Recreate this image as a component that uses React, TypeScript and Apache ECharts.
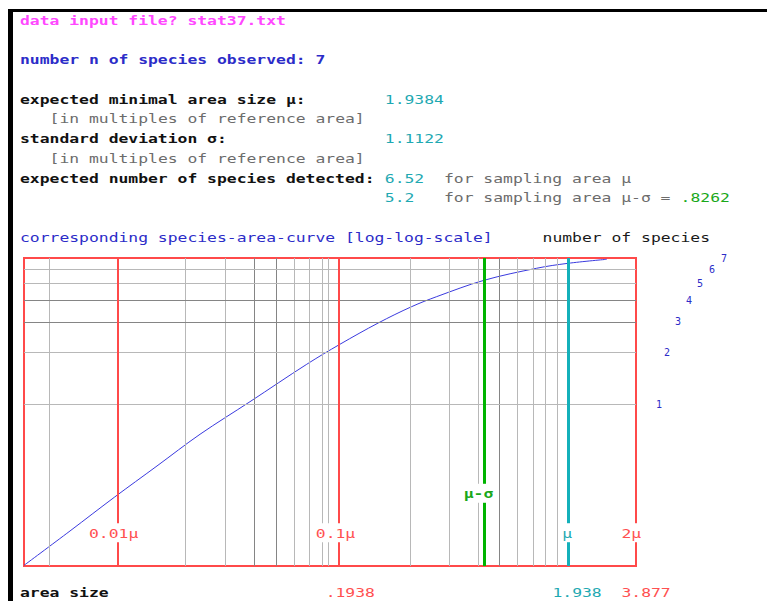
import React, { useEffect, useRef } from "react";
import * as echarts from "echarts";

// ---- values ----
const inputFile = "stat37.txt";
const speciesObserved = 7;
const mu = 1.9384; // expected minimal area size
const sigma = 1.1122; // standard deviation
const muMinusSigma = 0.8262;
const speciesAtMu = 6.52;
const speciesAtMuMinusSigma = 5.2;

// axis extents (x in multiples of mu, y in number of species)
const xRangeMultiples = [0.004, 2];
const yRange = [0.117, 7];

// vertical grid lines (multiples of mu) and horizontal ones (species)
const xGridMultiples = [
  0.005, 0.006, 0.007, 0.008, 0.009,
  0.02, 0.03, 0.04, 0.05, 0.06, 0.07, 0.08, 0.09,
  0.2, 0.3, 0.4, 0.5, 0.6, 0.7, 0.8, 0.9,
];
const xGridDark = [0.005, 0.04, 0.05, 0.5];
const yGridSpecies = [1, 2, 3, 4, 5, 6];
const yGridDark = [3, 4];
const redMarkerMultiples = [0.01, 0.1];
const speciesTickLabels = [1, 2, 3, 4, 5, 6, 7];

// species-area curve: area size -> expected number of species
const curveArea = [
  0.007754, 0.01237, 0.0194, 0.02993, 0.04632, 0.07695, 0.1369, 0.1919,
  0.2832, 0.3973, 0.5124, 0.8262, 1.4143, 1.9384, 2.88,
];
const curveSpecies = [
  0.118, 0.1863, 0.2915, 0.4419, 0.6732, 1.038, 1.706, 2.226, 2.954,
  3.668, 4.19, 5.2, 6.11, 6.52, 6.88,
];

// ---- layout (text-mode grid of the original screen) ----
const X0 = 20;
const CW = 9.86;
const Y0 = 20;
const RH = 19.72;
const FONT = '"DejaVu Sans Mono", "Liberation Mono", monospace';
const FONT_SIZE = 13;
const SCALE_X = CW / (0.6021 * FONT_SIZE);
const speciesLabelX = [659, 667, 678, 689, 700, 712, 724];

const C = {
  magenta: "#ff48ff",
  blue: "#2c2cc8",
  black: "#111111",
  gray: "#6c6c6c",
  cyan: "#1fa9b2",
  green: "#1aa81a",
  red: "#ff5050",
  redLine: "#ff4a4a",
  gridLight: "#b8b8b8",
  gridDark: "#858585",
  curve: "#3a3ade",
};

function fmtNoLead(v: number, d: number) {
  const s = v.toFixed(d);
  return s.startsWith("0.") ? s.slice(1) : s;
}

function txt(
  col: number,
  row: number,
  text: string,
  fill: string,
  bold = false,
  extra: Record<string, unknown> = {}
) {
  return {
    type: "text",
    x: X0 + col * CW,
    y: Y0 + row * RH,
    scaleX: SCALE_X,
    z: 100,
    silent: true,
    style: {
      text,
      fill,
      fontFamily: FONT,
      fontSize: FONT_SIZE,
      fontWeight: bold ? "bold" : "normal",
      align: "left",
      textAlign: "left",
      verticalAlign: "middle",
      textVerticalAlign: "middle",
      ...extra,
    },
  };
}

export default function App() {
  const ref = useRef<HTMLDivElement>(null);

  useEffect(() => {
    if (!ref.current) return;
    const chart = echarts.init(ref.current, null, { renderer: "svg" });

    const xMin = xRangeMultiples[0] * mu;
    const xMax = xRangeMultiples[1] * mu;

    const gridLines = [
      ...xGridMultiples.map((m) => ({
        xAxis: m * mu,
        lineStyle: {
          color: xGridDark.includes(m) ? C.gridDark : C.gridLight,
          width: 1,
          type: "solid",
        },
      })),
      ...yGridSpecies.map((s) => ({
        yAxis: s,
        lineStyle: {
          color: yGridDark.includes(s) ? C.gridDark : C.gridLight,
          width: 1,
          type: "solid",
        },
      })),
    ];

    const markerLines = [
      ...redMarkerMultiples.map((m) => ({
        xAxis: m * mu,
        lineStyle: { color: C.redLine, width: 2, type: "solid" },
      })),
      {
        xAxis: muMinusSigma,
        lineStyle: { color: "#00b400", width: 3, type: "solid" },
      },
      {
        xAxis: mu,
        lineStyle: { color: "#14b0ba", width: 3, type: "solid" },
      },
    ];

    const ml = (data: unknown[]) => ({
      silent: true,
      symbol: ["none", "none"],
      label: { show: false },
      emphasis: { disabled: true },
      animation: false,
      data,
    });

    chart.setOption({
      animation: false,
      backgroundColor: "#ffffff",
      grid: {
        left: 24,
        top: 258,
        width: 612,
        height: 308,
        show: true,
        borderColor: C.redLine,
        borderWidth: 2,
        backgroundColor: "#ffffff",
      },
      xAxis: {
        type: "log",
        logBase: 10,
        min: xMin,
        max: xMax,
        axisLine: { show: false },
        axisTick: { show: false },
        axisLabel: { show: false },
        splitLine: { show: false },
      },
      yAxis: {
        type: "log",
        logBase: 10,
        min: yRange[0],
        max: yRange[1],
        axisLine: { show: false },
        axisTick: { show: false },
        axisLabel: { show: false },
        splitLine: { show: false },
      },
      series: [
        {
          type: "line",
          data: [],
          z: 1,
          silent: true,
          markLine: ml(gridLines),
        },
        {
          type: "line",
          data: [],
          z: 2,
          silent: true,
          markLine: ml(markerLines),
        },
        {
          type: "line",
          z: 3,
          silent: true,
          smooth: 0.35,
          showSymbol: false,
          symbol: "none",
          lineStyle: { color: C.curve, width: 1 },
          data: curveArea.map((a, i) => [a, curveSpecies[i]]),
        },
      ],
    });

    const speciesLabels = speciesTickLabels.map((s, i) => {
      const y = chart.convertToPixel({ yAxisIndex: 0 }, s) as number;
      return {
        type: "text",
        x: speciesLabelX[i],
        y,
        z: 100,
        silent: true,
        style: {
          text: String(s),
          fill: C.blue,
          fontFamily: FONT,
          fontSize: 10,
          align: "center",
          textAlign: "center",
          verticalAlign: "middle",
          textVerticalAlign: "middle",
        },
      };
    });

    const bg = { backgroundColor: "#ffffff", padding: [3, 0] };

    chart.setOption({
      graphic: [
        { type: "rect", shape: { x: 8, y: 9, width: 759, height: 3 }, style: { fill: "#000" }, z: 100, silent: true },
        { type: "rect", shape: { x: 8, y: 9, width: 5, height: 592 }, style: { fill: "#000" }, z: 100, silent: true },
        txt(0, 0, `data input file? ${inputFile}`, C.magenta, true),
        txt(0, 2, `number n of species observed: ${speciesObserved}`, C.blue, true),
        txt(0, 4, "expected minimal area size μ:", C.black, true),
        txt(37, 4, mu.toFixed(4), C.cyan),
        txt(3, 5, "[in multiples of reference area]", C.gray),
        txt(0, 6, "standard deviation σ:", C.black, true),
        txt(37, 6, sigma.toFixed(4), C.cyan),
        txt(3, 7, "[in multiples of reference area]", C.gray),
        txt(0, 8, "expected number of species detected:", C.black, true),
        txt(37, 8, speciesAtMu.toFixed(2), C.cyan),
        txt(43, 8, "for sampling area μ", C.gray),
        txt(37, 9, speciesAtMuMinusSigma.toFixed(1), C.cyan),
        txt(43, 9, "for sampling area μ-σ = ", C.gray),
        txt(67, 9, fmtNoLead(muMinusSigma, 4), C.green),
        txt(0, 11, "corresponding species-area-curve [log-log-scale]", C.blue),
        txt(53, 11, "number of species", "#1a1a1a"),
        txt(45, 24, "μ-σ", C.green, true, bg),
        txt(7, 26, "0.01μ", C.red, false, bg),
        txt(30, 26, "0.1μ", C.red, false, bg),
        txt(55, 26, "μ", C.cyan, false, bg),
        txt(61, 26, "2μ", C.red, false, bg),
        txt(0, 29, "area size", C.black, true),
        txt(31, 29, fmtNoLead(mu / 10, 4), C.red),
        txt(54, 29, mu.toFixed(3), C.cyan),
        txt(61, 29, (2 * mu).toFixed(3), C.red),
        ...speciesLabels,
      ],
    });

    return () => chart.dispose();
  }, []);

  return (
    <div
      ref={ref}
      style={{
        position: "fixed",
        left: 0,
        top: 0,
        width: 767,
        height: 601,
        background: "#ffffff",
      }}
    />
  );
}
